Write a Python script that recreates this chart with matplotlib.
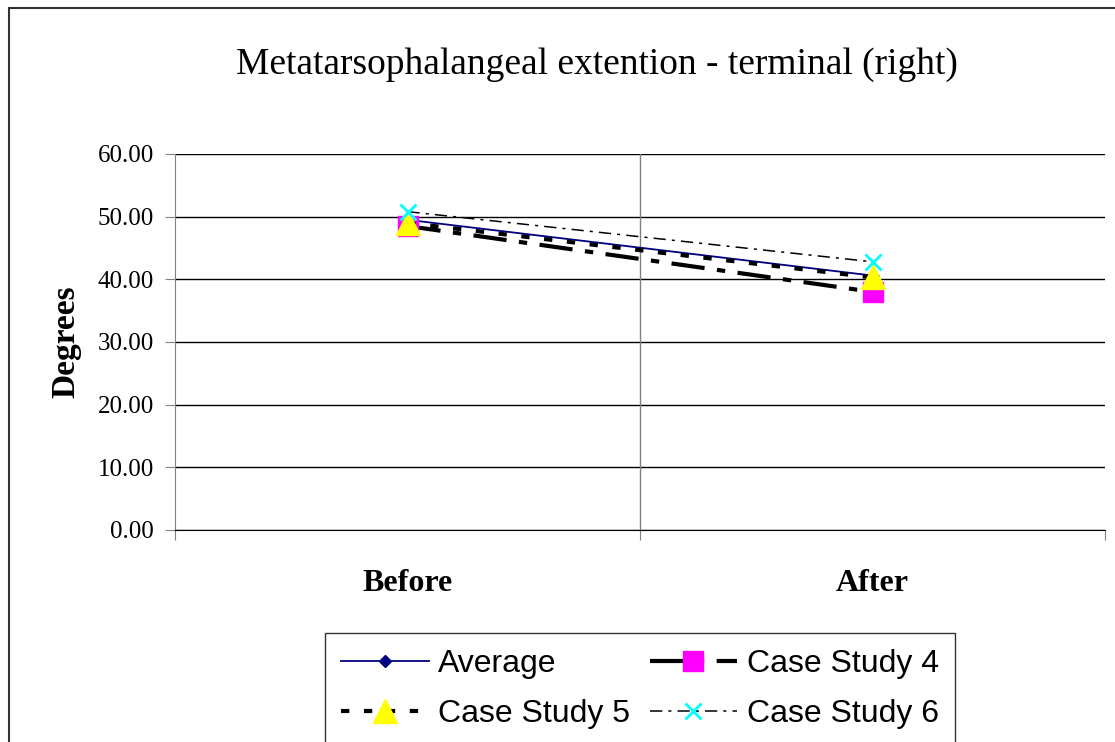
import matplotlib
matplotlib.use("Agg")
import matplotlib.pyplot as plt
from matplotlib.patches import Rectangle

# data
categories = ["Before", "After"]
average = [49.5, 40.6]
case4 = [48.5, 38.0]
case5 = [49.0, 40.3]
case6 = [50.8, 42.8]
yticks = [0, 10, 20, 30, 40, 50, 60]

plt.rcParams['font.family'] = ['Liberation Serif', 'DejaVu Serif']

fig = plt.figure(figsize=(11.15, 7.42), dpi=100)
# outer chart frame
fig.patches.append(Rectangle((9/1115, -0.01), 1.1, 1 - 8/742 + 0.01, transform=fig.transFigure,
                             fill=False, edgecolor="#333333", linewidth=1.5))
ax = fig.add_axes([175/1115, 1 - 530/742, 930/1115, 376/742])

x = [0.5, 1.5]
l_avg, = ax.plot(x, average, color="#000080", lw=1.3, marker="D", ms=6, mfc="#000080", mec="#000080",
                 label="Average", zorder=3)
l4, = ax.plot(x, case4, color="black", lw=3, dashes=(8, 3, 2, 3), marker="s", ms=14, mfc="#FF00FF",
              mec="#FF00FF", label="Case Study 4", zorder=4)
l5, = ax.plot(x, case5, color="black", lw=3, dashes=(2, 3.5), marker="^", ms=17, mfc="#FFFF00",
              mec="#FFFF00", label="Case Study 5", zorder=5)
l6, = ax.plot(x, case6, color="black", lw=1.1, dashes=(8, 4, 2, 4), marker="x", ms=11, mew=2,
              mec="#00FFFF", label="Case Study 6", zorder=6)

ax.set_xlim(0, 2)
ax.set_ylim(0, 60)
ax.set_yticks(yticks)
ax.set_yticklabels([f"{v:.2f}" for v in yticks], fontsize=18)
ax.yaxis.grid(True, color="black", lw=1)
ax.set_axisbelow(True)
ax.axvline(1, color="#808080", lw=1, zorder=1)

ax.set_xticks([0, 1, 2])
ax.set_xticklabels([])
ax.set_xticks([0.5, 1.5], minor=True)
ax.set_xticklabels(categories, minor=True, fontsize=23, fontweight="bold")
ax.tick_params(axis="x", which="minor", length=0, pad=28)
ax.tick_params(axis="x", which="major", length=7, direction="out", color="#808080")
ax.tick_params(axis="y", length=7, direction="out", pad=8, color="#808080")

for s in ["top", "right"]:
    ax.spines[s].set_visible(False)
ax.spines["left"].set_color("#808080")
ax.spines["bottom"].set_color("black")

ax.set_ylabel("Degrees", fontsize=24, fontweight="bold", labelpad=12)
fig.text(597/1115, 1 - 65/742, "Metatarsophalangeal extention - terminal (right)", ha="center", va="center",
         fontsize=27)

# legend fills row by row in the reference
handles = [l_avg, l5, l4, l6]
leg = ax.legend(handles=handles, labels=[h.get_label() for h in handles], ncol=2, loc="upper left",
                bbox_to_anchor=(325/1115, 1 - 633/742), bbox_transform=fig.transFigure,
                prop={"family": "Liberation Sans", "size": 23}, frameon=True, fancybox=False,
                edgecolor="black", handlelength=2.75, columnspacing=0.6, borderpad=0.5, labelspacing=0.62,
                handletextpad=0.3, borderaxespad=0)
leg.get_frame().set_linewidth(1)

fig.savefig("out.png", dpi=100)
